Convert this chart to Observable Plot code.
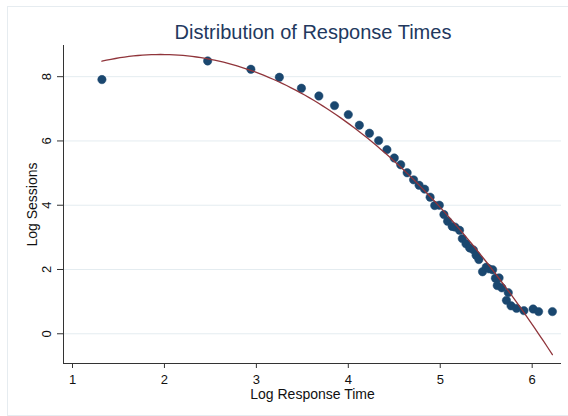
<!DOCTYPE html>
<html><head><meta charset="utf-8">
<script src="https://cdn.jsdelivr.net/npm/d3@7"></script>
<script src="https://cdn.jsdelivr.net/npm/@observablehq/plot@0.6"></script>
<style>
body{margin:0;background:#fff;}
#wrap{position:relative;width:568px;height:416px;overflow:hidden;font-family:"Liberation Sans",Arial,sans-serif;background:#fff;}
#frame{position:absolute;left:7px;top:6px;width:620px;height:410px;border:1px solid #e6ecf0;box-sizing:border-box;}
#title{position:absolute;left:63px;width:500px;top:22px;text-align:center;font-size:20px;line-height:20px;color:#22385e;white-space:nowrap;}
#chart{position:absolute;left:0;top:45px;}
</style>
</head><body>
<div id="wrap"><div id="frame"></div><div id="title">Distribution of Response Times</div><div id="chart"></div></div>
<script>
// Log response time (x) and log sessions (y)
const logTime = [1.32,2.47,2.94,3.25,3.49,3.68,3.85,4.00,4.12,4.23,4.33,4.42,4.50,4.57,4.64,4.71,4.77,4.83,4.89,4.94,4.99,5.04,5.08,5.13,5.16,5.21,5.24,5.28,5.32,5.36,5.39,5.42,5.46,5.50,5.53,5.57,5.60,5.64,5.62,5.67,5.74,5.72,5.77,5.83,5.91,6.01,6.07,6.22];
const logSessions = [7.91,8.49,8.23,7.98,7.64,7.40,7.10,6.82,6.49,6.24,6.01,5.73,5.47,5.26,5.01,4.79,4.62,4.50,4.25,3.99,4.00,3.71,3.50,3.34,3.32,3.22,2.96,2.80,2.67,2.61,2.44,2.31,1.93,2.07,2.02,1.99,1.73,1.74,1.50,1.43,1.28,1.04,0.87,0.79,0.72,0.77,0.69,0.69];
// quadratic fit coefficients (a + b*x + c*x^2)
const fitCoef = [6.718, 2.014, -0.5142];
const xTicks = [1,2,3,4,5,6];
const yTicks = [0,2,4,6,8];
const titleText = "Distribution of Response Times";
const xLabel = "Log Response Time";
const yLabel = "Log Sessions";

const points = logTime.map((x,i)=>({x, y: logSessions[i]}));
const xmin = d3.min(logTime), xmax = d3.max(logTime);
const fit = d3.range(0,101).map(i=>{const x=xmin+(xmax-xmin)*i/100; return {x, y: fitCoef[0]+fitCoef[1]*x+fitCoef[2]*x*x};});

const xDomain=[0.902,6.319], yDomain=[-0.925,8.97];
const chart = Plot.plot({
  width:568, height:371,
  marginTop:0, marginRight:7, marginBottom:53, marginLeft:63,
  style:{fontFamily:"'Liberation Sans', Arial, sans-serif", fontSize:"13px", color:"#111", background:"transparent", overflow:"visible"},
  x:{domain:xDomain},
  y:{domain:yDomain},
  marks:[
    Plot.gridY(yTicks,{stroke:"#e4ecf0", strokeOpacity:1, strokeWidth:1}),
    Plot.ruleX([xDomain[0]],{stroke:"#333", strokeWidth:1}),
    Plot.ruleY([yDomain[0]],{stroke:"#333", strokeWidth:1}),
    Plot.axisX(xTicks,{tickSize:5, tickPadding:6, label:null, stroke:"#333", fontSize:13}),
    Plot.axisY(yTicks,{tickSize:6, tickFormat:()=>"", label:null, stroke:"#333"}),
    Plot.text(yTicks,{frameAnchor:"left", y:d=>d, text:d=>String(d), rotate:-90, dx:-17, lineAnchor:"middle", textAnchor:"middle", fill:"#111", fontSize:13}),
    Plot.text([yLabel],{frameAnchor:"left", text:d=>d, rotate:-90, dx:-31, lineAnchor:"middle", textAnchor:"middle", fill:"#111", fontSize:14}),
    Plot.text([xLabel],{frameAnchor:"bottom", text:d=>d, dy:35, lineAnchor:"bottom", textAnchor:"middle", fill:"#111", fontSize:14}),
    Plot.dot(points,{x:"x", y:"y", r:4.2, fill:"#1a476f", stroke:"#1a476f", strokeWidth:0.5}),
    Plot.line(fit,{x:"x", y:"y", stroke:"#90353b", strokeWidth:1.3})
  ]
});
document.getElementById("chart").appendChild(chart);
</script>
</body></html>
